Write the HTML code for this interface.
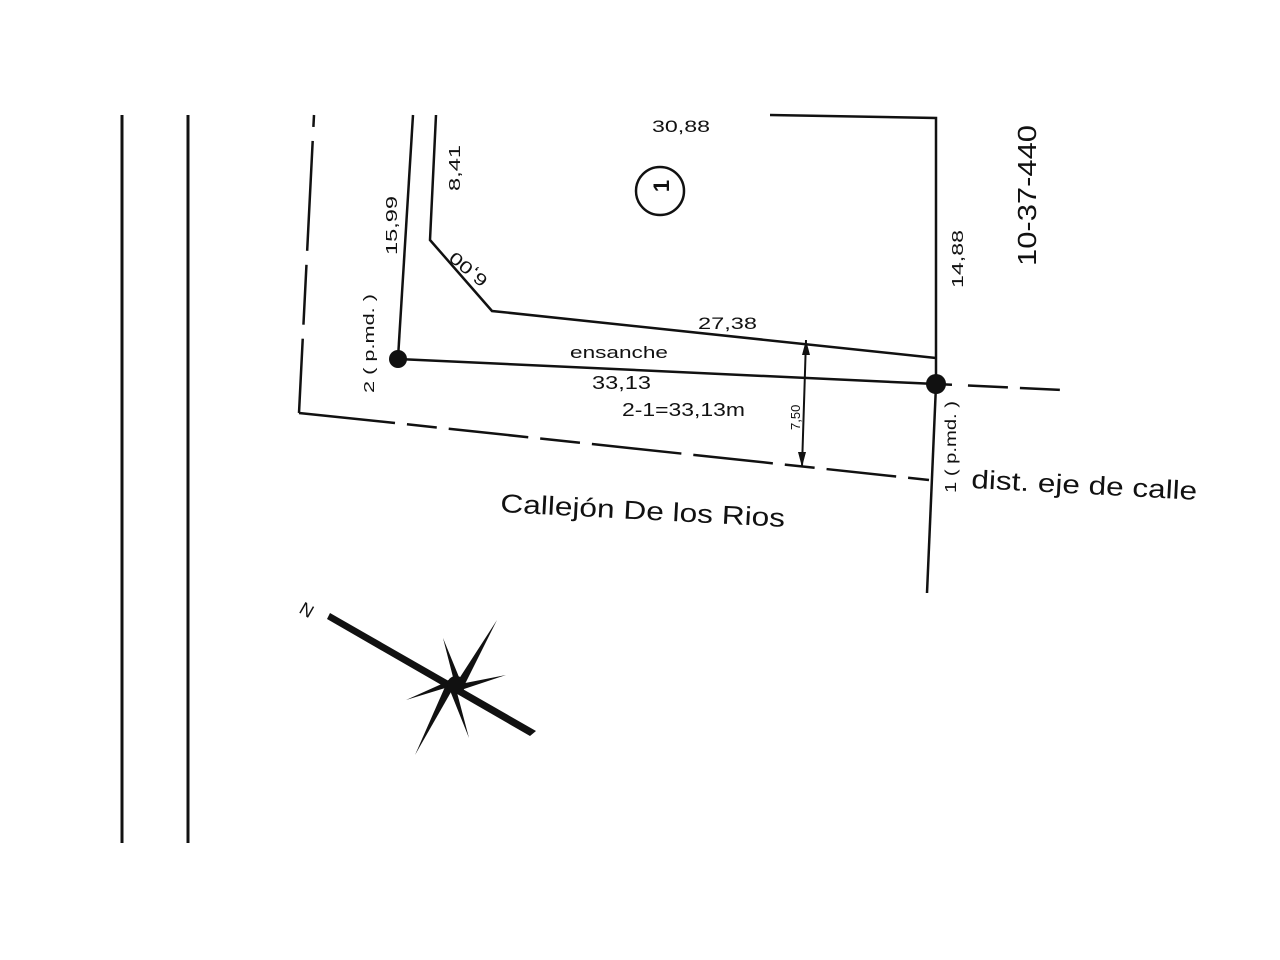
<!DOCTYPE html>
<html><head><meta charset="utf-8"><style>
html,body{margin:0;padding:0;background:#fff;}
svg{display:block;}
text{font-family:"Liberation Sans",Arial,sans-serif;fill:#111;}
</style></head><body>
<svg width="1280" height="960" viewBox="0 0 1280 960" xmlns="http://www.w3.org/2000/svg">
<g stroke="#111" fill="none" stroke-linecap="butt">
<line x1="122" y1="115" x2="122" y2="843" stroke-width="3"/>
<line x1="188" y1="115" x2="188" y2="843" stroke-width="3"/>
<polyline points="314,115 299,413" stroke-width="2.5" stroke-dasharray="12,14,110,14,60,14,100,0"/>
<line x1="299" y1="413" x2="395" y2="423" stroke-width="2.5"/>
<line x1="395" y1="423" x2="929" y2="480" stroke-width="2.5" stroke-dasharray="0,12,30,12,80,12,40,12,90,12,80,12,30,12,70,12,50"/>
<line x1="413" y1="115" x2="398" y2="358" stroke-width="2.5"/>
<polyline points="436,115 430,240 492,311 936,358" stroke-width="2.5"/>
<polyline points="770,115 936,118 936,385" stroke-width="2.5"/>
<line x1="936" y1="385" x2="927" y2="593" stroke-width="2.5"/>
<line x1="398" y1="359" x2="936" y2="384" stroke-width="2.5"/>
<line x1="936" y1="384" x2="1062" y2="390" stroke-width="2.5" stroke-dasharray="16,16,40,12,40"/>
<line x1="806" y1="340" x2="802" y2="467" stroke-width="2"/>
<circle cx="660" cy="191" r="24" stroke-width="2.5"/>
</g>
<polygon points="806,340 802,355 810,355" fill="#111"/>
<polygon points="802,467 798,452 806,452" fill="#111"/>
<circle cx="398" cy="359" r="9" fill="#111"/>
<circle cx="936" cy="384" r="10" fill="#111"/>
<g fill="#111">
<polygon points="330,613 536,731 530,736 327,619"/>
<polygon points="455,685 497,620 462,690"/>
<polygon points="455,685 415,755 448,680"/>
<polygon points="455,685 406,700 455,678"/>
<polygon points="455,685 506,675 455,692"/>
<polygon points="455,685 443,638 461,682"/>
<polygon points="455,685 469,738 449,688"/>
<circle cx="456" cy="685" r="9"/>
</g>
<text x="0" y="0" font-size="18" transform="translate(298,612) rotate(30)">N</text>
<text x="652" y="132" font-size="17" textLength="58" lengthAdjust="spacingAndGlyphs">30,88</text>
<text x="665" y="200" font-size="22" font-weight="bold" transform="rotate(-90 660 191)" text-anchor="middle">1</text>
<text font-size="16" transform="translate(460,191) rotate(-90)" textLength="46" lengthAdjust="spacingAndGlyphs">8,41</text>
<text font-size="16" transform="translate(397,255) rotate(-90)" textLength="59" lengthAdjust="spacingAndGlyphs">15,99</text>
<text font-size="17" transform="translate(489,279) rotate(220)" textLength="44" lengthAdjust="spacingAndGlyphs">6,00</text>
<text x="698" y="329" font-size="17" textLength="59" lengthAdjust="spacingAndGlyphs">27,38</text>
<text x="570" y="358" font-size="17" textLength="98" lengthAdjust="spacingAndGlyphs">ensanche</text>
<text x="592" y="389" font-size="18" textLength="59" lengthAdjust="spacingAndGlyphs">33,13</text>
<text x="622" y="416" font-size="18" textLength="123" lengthAdjust="spacingAndGlyphs">2-1=33,13m</text>
<text font-size="15" transform="translate(374,393) rotate(-90)" textLength="99" lengthAdjust="spacingAndGlyphs">2 ( p.md. )</text>
<text font-size="13" transform="translate(800,430) rotate(-90)">7,50</text>
<text font-size="16" transform="translate(963,288) rotate(-90)" textLength="58" lengthAdjust="spacingAndGlyphs">14,88</text>
<text font-size="26" transform="translate(1036,266) rotate(-90)" textLength="141" lengthAdjust="spacingAndGlyphs">10-37-440</text>
<text font-size="16" transform="translate(956,493) rotate(-90)" textLength="92" lengthAdjust="spacingAndGlyphs">1 ( p.md. )</text>
<text font-size="26" transform="translate(971,488) rotate(3)" textLength="226" lengthAdjust="spacingAndGlyphs">dist. eje de calle</text>
<text font-size="26" transform="translate(500,512) rotate(3)" textLength="285" lengthAdjust="spacingAndGlyphs">Callejón De los Rios</text>
</svg>
</body></html>
